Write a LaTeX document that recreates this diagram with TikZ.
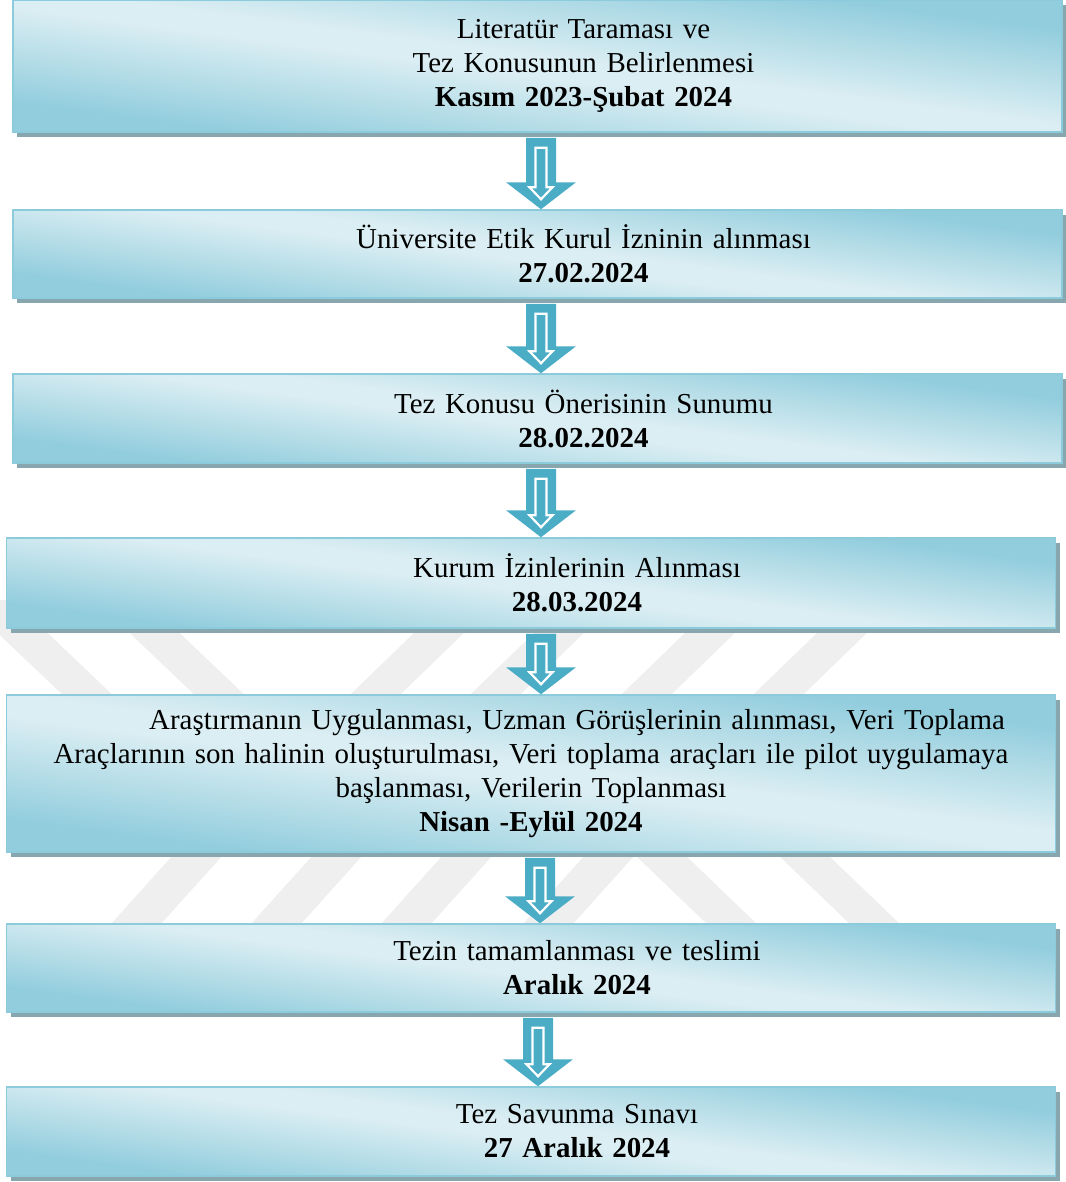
\documentclass[tikz,border=0pt]{standalone}
\usepackage{fontspec}
\setmainfont{Liberation Serif}
\usetikzlibrary{positioning, calc, shadows}

\newlength\pxu
\setlength\pxu{0.415pt}

\definecolor{boxlight}{RGB}{219,238,243}
\definecolor{boxdark}{RGB}{146,205,221}
\definecolor{boxline}{RGB}{140,203,219}
\definecolor{boxshadow}{RGB}{135,166,173}
\definecolor{arrowblue}{RGB}{75,172,198}
\definecolor{wmark}{RGB}{239,239,239}

\pgfdeclareverticalshading{boxshade}{100bp}{color(0bp)=(boxdark); color(28bp)=(boxdark); color(48bp)=(boxlight); color(52bp)=(boxlight); color(72bp)=(boxdark); color(100bp)=(boxdark)}

\newcommand\firstindent{\hspace*{92\pxu}}

% block arrow from the bottom of #1 to the top of #2, at x = #3 px
\newcommand\flowarrow[3]{%
  \fill[arrowblue] let \p1=(#1.south), \p2=(#2.north) in
    (#3\pxu-15\pxu,\y1-5\pxu) -- (#3\pxu+15\pxu,\y1-5\pxu) -- (#3\pxu+15\pxu,\y2+27\pxu)
    -- (#3\pxu+35\pxu,\y2+27\pxu) -- (#3\pxu,\y2) -- (#3\pxu-35\pxu,\y2+27\pxu)
    -- (#3\pxu-15\pxu,\y2+27\pxu) -- cycle;
  \draw[white, line width=2.2\pxu, fill=arrowblue] let \p1=(#1.south), \p2=(#2.north) in
    (#3\pxu-5.5\pxu,\y1-15\pxu) -- (#3\pxu+5.5\pxu,\y1-15\pxu) -- (#3\pxu+5.5\pxu,\y2+22\pxu)
    -- (#3\pxu+11.5\pxu,\y2+22\pxu) -- (#3\pxu,\y2+10\pxu) -- (#3\pxu-11.5\pxu,\y2+22\pxu)
    -- (#3\pxu-5.5\pxu,\y2+22\pxu) -- cycle;}

\begin{document}
\begin{tikzpicture}[
		flowbox/.style={rectangle, draw=boxline, line width=1.5\pxu,
			shade, shading=boxshade, shading angle=-7.5,
			drop shadow={shadow xshift=4\pxu, shadow yshift=-5\pxu, fill=boxshadow, opacity=1},
			minimum width=1049\pxu, text width=1040\pxu, align=center, inner sep=0pt,
			font=\fontsize{12}{14.1}\selectfont}
		]

		\useasboundingbox (0,0) rectangle (1066\pxu,-1182\pxu);

		% faint watermark stripes
		\foreach \c in {22,154}
			\fill[wmark] ({(\c-59)*\pxu},-600\pxu) -- ++(50\pxu,0) -- ({(\c+117)*\pxu},-720\pxu) -- ++(-50\pxu,0) -- cycle;
		\foreach \c in {440,560,711,843}
			\fill[wmark] ({(\c+8)*\pxu},-600\pxu) -- ++(50\pxu,0) -- ({(\c-66)*\pxu},-720\pxu) -- ++(-50\pxu,0) -- cycle;
		\foreach \c in {198,338,468,610}
			\fill[wmark] ({(\c-2.5)*\pxu},-830\pxu) -- ++(50\pxu,0) -- ({(\c-60.5)*\pxu},-950\pxu) -- ++(-50\pxu,0) -- cycle;
		\foreach \c in {660,803}
			\fill[wmark] ({(\c-51)*\pxu},-830\pxu) -- ++(50\pxu,0) -- ({(\c+124)*\pxu},-950\pxu) -- ++(-50\pxu,0) -- cycle;

		\node[flowbox, minimum height=132\pxu] (lit) at (537.5\pxu,-66\pxu)
			{\firstindent Literatür Taraması ve\\ \firstindent Tez Konusunun Belirlenmesi\\ \firstindent\textbf{Kasım 2023-Şubat 2024}};
		\node[flowbox, minimum height=88\pxu, below=76.5\pxu of lit] (etik)
			{\firstindent Üniversite Etik Kurul İzninin alınması\\ \firstindent\textbf{27.02.2024}};
		\node[flowbox, minimum height=89\pxu, below=74.5\pxu of etik] (oneri)
			{\firstindent Tez Konusu Önerisinin Sunumu\\ \firstindent\textbf{28.02.2024}};
		\node[flowbox, minimum height=90\pxu, below=73.5\pxu of oneri, xshift=-6.5\pxu] (kurum)
			{\firstindent Kurum İzinlerinin Alınması\\ \firstindent\textbf{28.03.2024}};
		\node[flowbox, minimum height=157\pxu, below=65.5\pxu of kurum] (veri)
			{\firstindent Araştırmanın Uygulanması, Uzman Görüşlerinin alınması, Veri Toplama\\
			Araçlarının son halinin oluşturulması, Veri toplama araçları ile pilot uygulamaya\\
			başlanması, Verilerin Toplanması\\ \textbf{Nisan -Eylül 2024}};
		\node[flowbox, minimum height=88\pxu, below=70.5\pxu of veri] (tezin)
			{\firstindent Tezin tamamlanması ve teslimi\\ \firstindent\textbf{Aralık 2024}};
		\node[flowbox, minimum height=89\pxu, below=73.5\pxu of tezin] (savunma)
			{\firstindent Tez Savunma Sınavı\\ \firstindent\textbf{27 Aralık 2024}};

		\flowarrow{lit}{etik}{541}
		\flowarrow{etik}{oneri}{541}
		\flowarrow{oneri}{kurum}{541}
		\flowarrow{kurum}{veri}{541}
		\flowarrow{veri}{tezin}{540}
		\flowarrow{tezin}{savunma}{538}
	\end{tikzpicture}
\end{document}
